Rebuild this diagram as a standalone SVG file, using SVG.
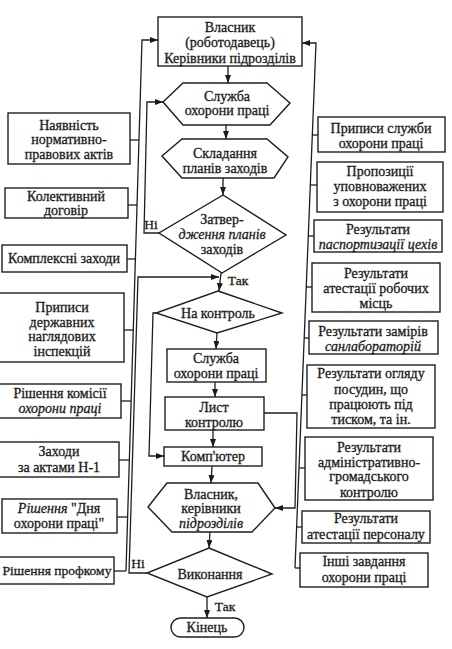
<svg xmlns="http://www.w3.org/2000/svg" width="452" height="649" viewBox="0 0 452 649">
<defs>
<marker id="ah" viewBox="0 0 8 6" refX="8" refY="3" markerWidth="8" markerHeight="6" markerUnits="userSpaceOnUse" orient="auto">
<path d="M0,0 L8,3 L0,6 Z" fill="#1a1a1a"/>
</marker>
<style>
.b{fill:#fff;stroke:#1e1e1e;stroke-width:1.4}
.c{fill:none;stroke:#1e1e1e;stroke-width:1.3}
.a{fill:none;stroke:#1e1e1e;stroke-width:1.3;marker-end:url(#ah)}
text{font-family:"Liberation Serif","DejaVu Serif",serif;font-size:14px;fill:#1a1a1a;stroke:#1a1a1a;stroke-width:0.3;text-anchor:middle}
.i{font-style:italic}
.l{font-size:13.5px}
</style>
</defs>
<rect width="452" height="649" fill="#fff"/>

<g id="connectors">
<line class="a" x1="228" y1="66" x2="228" y2="83"/>
<line class="a" x1="226" y1="125" x2="226" y2="139"/>
<line class="a" x1="223" y1="178" x2="223" y2="195"/>
<line class="a" x1="221" y1="273" x2="219" y2="291"/>
<line class="a" x1="217" y1="333" x2="216" y2="349"/>
<line class="a" x1="215" y1="382" x2="215" y2="397"/>
<line class="a" x1="213" y1="430" x2="213" y2="447"/>
<line class="a" x1="212" y1="466" x2="211" y2="483"/>
<line class="a" x1="210" y1="532" x2="209" y2="548"/>
<line class="a" x1="207" y1="597" x2="207" y2="618"/>
<path class="a" d="M159,233 L144,233 L147,102 L163,102"/>
<path class="a" d="M147,573 L129,573 L138,277 L219,277"/>
<path class="a" d="M156,313 L153,313 L149,456 L164,456"/>
<path class="a" d="M264,413 L297,413 L295,508 L275,508"/>
<path class="a" d="M126,571 L142,40 L158,40"/>
<line class="c" x1="130" y1="140" x2="139" y2="140"/>
<line class="c" x1="128" y1="205" x2="137" y2="205"/>
<line class="c" x1="127" y1="259" x2="136" y2="259"/>
<line class="c" x1="124" y1="330" x2="134" y2="330"/>
<line class="c" x1="121" y1="401" x2="131" y2="401"/>
<line class="c" x1="119" y1="460" x2="130" y2="460"/>
<line class="c" x1="117" y1="517" x2="128" y2="517"/>
<line class="c" x1="114" y1="571" x2="126" y2="571"/>
<path class="a" d="M295,568 L316,43 L302,43"/>
<line class="c" x1="312" y1="135" x2="318" y2="135"/>
<line class="c" x1="310" y1="185" x2="317" y2="185"/>
<line class="c" x1="308" y1="236" x2="314" y2="236"/>
<line class="c" x1="306" y1="287" x2="312" y2="287"/>
<line class="c" x1="304" y1="338" x2="309" y2="338"/>
<line class="c" x1="302" y1="395" x2="307" y2="395"/>
<line class="c" x1="299" y1="468" x2="305" y2="468"/>
<line class="c" x1="296.6" y1="527" x2="302" y2="527"/>
<line class="c" x1="295" y1="568" x2="300" y2="568"/>
<text class="l" x="151" y="229">Ні</text>
<text class="l" x="238" y="285">Так</text>
<text class="l" x="138" y="568">Ні</text>
<text class="l" x="225" y="611">Так</text>
</g>

<g id="owner-top">
<rect class="b" x="158" y="17" width="144" height="49"/>
<text x="230" y="32">Власник</text>
<text x="230" y="47">(роботодавець)</text>
<text x="230" y="63">Керівники підрозділів</text>
</g>
<g id="service-hex">
<polygon class="b" points="163,102 183,83 267,83 290,103 270,125 183,125"/>
<text x="227" y="101">Служба</text>
<text x="227" y="115">охорони праці</text>
</g>
<g id="plans-hex">
<polygon class="b" points="162,156 182,139 267,139 288,157 274,178 182,178"/>
<text x="225" y="158">Складання</text>
<text x="225" y="173">планів заходів</text>
</g>
<g id="approve">
<polygon class="b" points="223,195 286,235 222,273 159,233"/>
<text x="222" y="224">Затвер-</text>
<text class="i" x="222" y="239">дження планів</text>
<text x="222" y="254">заходів</text>
</g>
<g id="control">
<polygon class="b" points="218,291 282,313 217,333 156,313"/>
<text x="218" y="318">На контроль</text>
</g>
<g id="service-box">
<rect class="b" x="167" y="349" width="99" height="33"/>
<text x="216" y="363">Служба</text>
<text x="216" y="378">охорони праці</text>
</g>
<g id="control-sheet">
<rect class="b" x="165" y="397" width="99" height="33"/>
<text x="214" y="412">Лист</text>
<text x="214" y="427">контролю</text>
</g>
<g id="computer">
<rect class="b" x="164" y="447" width="98" height="19"/>
<text x="213" y="461">Комп'ютер</text>
</g>
<g id="owner-hex">
<polygon class="b" points="167,483 258,483 275,508 252,532 172,532 148,507"/>
<text x="211" y="499">Власник,</text>
<text x="211" y="513">керівники</text>
<text class="i" x="211" y="528">підрозділів</text>
</g>
<g id="execution">
<polygon class="b" points="209,548 272,574 207,597 147,573"/>
<text x="210" y="579">Виконання</text>
</g>
<g id="end">
<rect class="b" x="171" y="618" width="73" height="19" rx="9.5"/>
<text x="207" y="632">Кінець</text>
</g>

<g id="l1">
<rect class="b" x="8" y="113" width="122" height="51"/>
<text x="69" y="130">Наявність</text>
<text x="69" y="144">нормативно-</text>
<text x="69" y="159">правових актів</text>
</g>
<g id="l2">
<rect class="b" x="5" y="188" width="123" height="30"/>
<text x="66" y="201">Колективний</text>
<text x="66" y="215">договір</text>
</g>
<g id="l3">
<rect class="b" x="2" y="245" width="125" height="27"/>
<text x="64" y="263">Комплексні заходи</text>
</g>
<g id="l4">
<rect class="b" x="-2" y="293" width="126" height="69"/>
<text x="62" y="312">Приписи</text>
<text x="62" y="327">державних</text>
<text x="62" y="341">наглядових</text>
<text x="62" y="356">інспекцій</text>
</g>
<g id="l5">
<rect class="b" x="-2" y="384" width="123" height="34"/>
<text x="60" y="398">Рішення комісії</text>
<text class="i" x="60" y="413">охорони праці</text>
</g>
<g id="l6">
<rect class="b" x="-2" y="442" width="121" height="35"/>
<text x="59" y="456">Заходи</text>
<text x="59" y="472">за актами Н-1</text>
</g>
<g id="l7">
<rect class="b" x="2" y="499" width="115" height="34"/>
<text x="59" y="513"><tspan class="i">Рішення</tspan> "Дня</text>
<text x="59" y="528">охорони праці"</text>
</g>
<g id="l8">
<rect class="b" x="-6" y="557" width="120" height="27"/>
<text x="57" y="575" style="font-size:13.5px">Рішення профкому</text>
</g>

<g id="r1">
<rect class="b" x="318" y="117" width="127" height="35"/>
<text x="381" y="133">Приписи служби</text>
<text x="381" y="148">охорони праці</text>
</g>
<g id="r2">
<rect class="b" x="317" y="162" width="126" height="50"/>
<text x="380" y="176">Пропозиції</text>
<text x="380" y="191">уповноважених</text>
<text x="380" y="206">з охорони праці</text>
</g>
<g id="r3">
<rect class="b" x="314" y="220" width="128" height="32"/>
<text x="378" y="234">Результати</text>
<text class="i" x="378" y="249">паспортизації цехів</text>
</g>
<g id="r4">
<rect class="b" x="312" y="263" width="128" height="49"/>
<text x="376" y="278">Результати</text>
<text x="376" y="293">атестації робочих</text>
<text x="376" y="308">місць</text>
</g>
<g id="r5">
<rect class="b" x="309" y="321" width="129" height="33"/>
<text x="373" y="336">Результати замірів</text>
<text class="i" x="373" y="351">санлабораторій</text>
</g>
<g id="r6">
<rect class="b" x="307" y="365" width="128" height="63"/>
<text x="371" y="378">Результати огляду</text>
<text x="371" y="394">посудин, що</text>
<text x="371" y="409">працюють під</text>
<text x="371" y="424">тиском, та ін.</text>
</g>
<g id="r7">
<rect class="b" x="305" y="437" width="128" height="63"/>
<text x="369" y="452">Результати</text>
<text x="369" y="467">адміністративно-</text>
<text x="369" y="481">громадського</text>
<text x="369" y="497">контролю</text>
</g>
<g id="r8">
<rect class="b" x="302" y="511" width="128" height="32"/>
<text x="366" y="523">Результати</text>
<text x="366" y="539">атестації персоналу</text>
</g>
<g id="r9">
<rect class="b" x="300" y="553" width="128" height="34"/>
<text x="364" y="566">Інші завдання</text>
<text x="364" y="582">охорони праці</text>
</g>
</svg>
